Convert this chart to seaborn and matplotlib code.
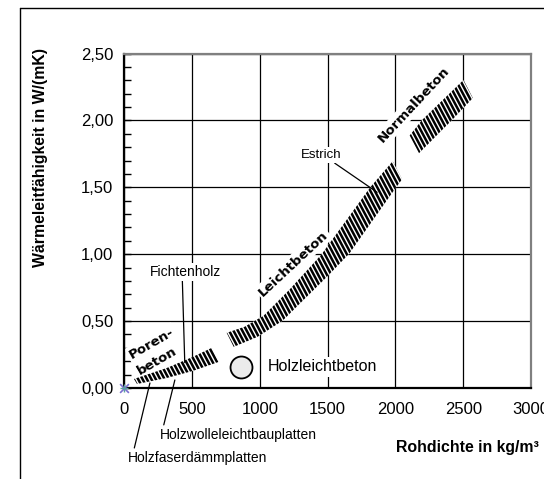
import numpy as np
import matplotlib
matplotlib.use("Agg")
import matplotlib.pyplot as plt
import seaborn as sns
from matplotlib.collections import LineCollection
from matplotlib.lines import Line2D
from matplotlib.ticker import MultipleLocator, FuncFormatter

# ---- data: thermal conductivity bands (lower / upper bound) vs. bulk density ----
poren_lo_rho = [94, 314, 505, 696]
poren_lo_lam = [0.03, 0.075, 0.1275, 0.195]
poren_hi_rho = [71, 314, 505, 645]
poren_hi_lam = [0.0675, 0.15, 0.2325, 0.30]

leicht_lo_rho = [807, 983, 1167, 1496, 1660, 2005, 2049]
leicht_lo_lam = [0.3075, 0.3825, 0.5025, 0.8325, 1.005, 1.50, 1.56]
leicht_hi_rho = [755, 887, 1027, 1218, 1454, 1814, 1980]
leicht_hi_lam = [0.4125, 0.4575, 0.54, 0.735, 0.9975, 1.50, 1.695]

normal_lo_rho = [2174, 2417, 2571]
normal_lo_lam = [1.755, 2.0025, 2.1675]
normal_hi_rho = [2105, 2196, 2502]
normal_hi_lam = [1.8875, 2.0025, 2.3025]

# single material point
holzleicht_rho = [858]
holzleicht_lam = [0.16]

# small stray series markers
origin_rho = [0]
origin_lam = [0]

x_ticks = [0, 500, 1000, 1500, 2000, 2500, 3000]
y_ticks = [0.0, 0.5, 1.0, 1.5, 2.0, 2.5]

# ---- figure ----
sns.set_theme(style="white")
plt.rcParams["font.family"] = ["Liberation Sans", "DejaVu Sans"]

DPI = 100
fig = plt.figure(figsize=(5.44, 4.79), dpi=DPI)
ax = fig.add_axes([124.3 / 544, 1 - 388 / 479, (531 - 124.3) / 544, (388 - 53.5) / 479])
ax.set_xlim(0, 3000)
ax.set_ylim(0, 2.5)

# grid and frame
ax.set_axisbelow(True)
ax.set_xticks(x_ticks)
ax.set_yticks(y_ticks)
ax.grid(True, which="major", color="black", linewidth=0.9)
ax.yaxis.set_minor_locator(MultipleLocator(0.1))
ax.yaxis.set_major_formatter(FuncFormatter(lambda v, p: f"{v:.2f}".replace(".", ",")))
ax.tick_params(axis="y", which="both", direction="in", length=5, width=1,
               color="black", labelsize=12, pad=8, left=True)
ax.tick_params(axis="x", which="both", length=0, labelsize=12, pad=10)
for side in ("left", "bottom"):
    ax.spines[side].set_color("black")
    ax.spines[side].set_linewidth(1.6)
for side in ("top", "right"):
    ax.spines[side].set_color("#808080")
    ax.spines[side].set_linewidth(1.6)
for lab in ax.get_xticklabels() + ax.get_yticklabels():
    lab.set_color("black")


def hatched_band(rho_lo, lam_lo, rho_hi, lam_hi, spacing=4.4, angle=62, lw=1.8):
    xs = np.r_[rho_lo, rho_hi[::-1]]
    ys = np.r_[lam_lo, lam_hi[::-1]]
    patch, = ax.fill(xs, ys, color="white", lw=0, zorder=3)
    pts = ax.transData.transform(np.c_[xs, ys])
    x0, x1 = pts[:, 0].min(), pts[:, 0].max()
    y0, y1 = pts[:, 1].min(), pts[:, 1].max()
    t = np.deg2rad(angle)
    d = np.array([np.cos(t), -np.sin(t)])
    h = y1 - y0
    ext = h / np.tan(t) + 10
    length = h / np.sin(t) + 40
    ymid = 0.5 * (y0 + y1)
    xc = np.arange(x0 - ext, x1 + ext, spacing)
    inv = ax.transData.inverted()
    segs = []
    for c in xc:
        p = np.array([c, ymid])
        a = inv.transform(p - d * length / 2)
        b = inv.transform(p + d * length / 2)
        segs.append([a, b])
    lc = LineCollection(segs, colors="black", linewidths=lw, zorder=3.5,
                        capstyle="butt")
    ax.add_collection(lc, autolim=False)
    lc.set_clip_path(patch)


hatched_band(poren_lo_rho, poren_lo_lam, poren_hi_rho, poren_hi_lam)
hatched_band(leicht_lo_rho, leicht_lo_lam, leicht_hi_rho, leicht_hi_lam)
hatched_band(normal_lo_rho, normal_lo_lam, normal_hi_rho, normal_hi_lam)

# Holzleichtbeton point
sns.scatterplot(x=holzleicht_rho, y=holzleicht_lam, ax=ax, s=250, marker="o",
                color="#ebebeb", edgecolor="black", linewidth=1.3, zorder=5,
                legend=False)
sns.scatterplot(x=origin_rho, y=origin_lam, ax=ax, s=40, marker="x",
                color="#7a6fd0", linewidth=1.2, zorder=6, legend=False, clip_on=False)
sns.scatterplot(x=origin_rho, y=origin_lam, ax=ax, s=30, marker="+",
                color="#5aa0a0", linewidth=1.0, zorder=6, legend=False, clip_on=False)

white_box = dict(boxstyle="square,pad=0.15", facecolor="white", edgecolor="none")
band_font = dict(family=["DejaVu Sans"], fontweight="bold", fontsize=9.6, color="black")

ax.text(200, 0.335, "Poren-", rotation=30, rotation_mode="anchor", ha="center",
        va="center", bbox=white_box, zorder=2.5, **band_font)
ax.text(240, 0.20, "beton", rotation=30, rotation_mode="anchor", ha="center",
        va="center", bbox=white_box, zorder=2.5, **band_font)
ax.text(1248, 0.93, "Leichtbeton", rotation=43, rotation_mode="anchor", ha="center",
        va="center", bbox=white_box, zorder=2.5, **band_font)
ax.text(2133, 2.115, "Normalbeton", rotation=47, rotation_mode="anchor", ha="center",
        va="center", bbox=white_box, zorder=2.5, **band_font)

ax.text(1057, 0.1575, "Holzleichtbeton", fontsize=11.5, ha="left", va="center",
        bbox=white_box, zorder=2.5, color="black")

arrow = dict(arrowstyle="-", color="black", lw=0.9, shrinkA=0, shrinkB=0)

ax.annotate("Fichtenholz", xy=(446, 0.19), xytext=(454, 0.87), fontsize=10,
            ha="center", va="center", zorder=4, color="black",
            bbox=white_box, arrowprops=dict(arrow, relpos=(0.45, 0.0)))
ax.annotate("Estrich", xy=(1865, 1.4625), xytext=(1456, 1.74), fontsize=9.5,
            ha="center", va="center", zorder=4, color="black",
            bbox=white_box, arrowprops=dict(arrow, relpos=(0.75, 0.0)))
ax.annotate("Holzwolleleichtbauplatten", xy=(373, 0.06), xytext=(262, -0.3525),
            fontsize=10, ha="left", va="center", color="black",
            annotation_clip=False, arrowprops=dict(arrow, relpos=(0.02, 1.0)))
ax.annotate("Holzfaserdämmplatten", xy=(189, 0.0375), xytext=(27, -0.525),
            fontsize=10, ha="left", va="center", color="black",
            annotation_clip=False, arrowprops=dict(arrow, relpos=(0.04, 1.0)))

# axis titles
ax.set_ylabel("Wärmeleitfähigkeit in W/(mK)", fontsize=11.4, fontweight="bold",
              color="black")
ax.yaxis.set_label_coords(-0.187, 0.6876)
ax.set_xlabel("Rohdichte in kg/m³", fontsize=11.4, fontweight="bold", color="black")
ax.xaxis.set_label_coords(0.8427, -0.155)

# outer chart border
fig.add_artist(Line2D([20 / 544, 1.0], [1 - 8 / 479, 1 - 8 / 479],
                      transform=fig.transFigure, color="black", lw=1.0))
fig.add_artist(Line2D([20 / 544, 20 / 544], [0.0, 1 - 8 / 479],
                      transform=fig.transFigure, color="black", lw=1.0))

fig.savefig("out.png", dpi=DPI)
